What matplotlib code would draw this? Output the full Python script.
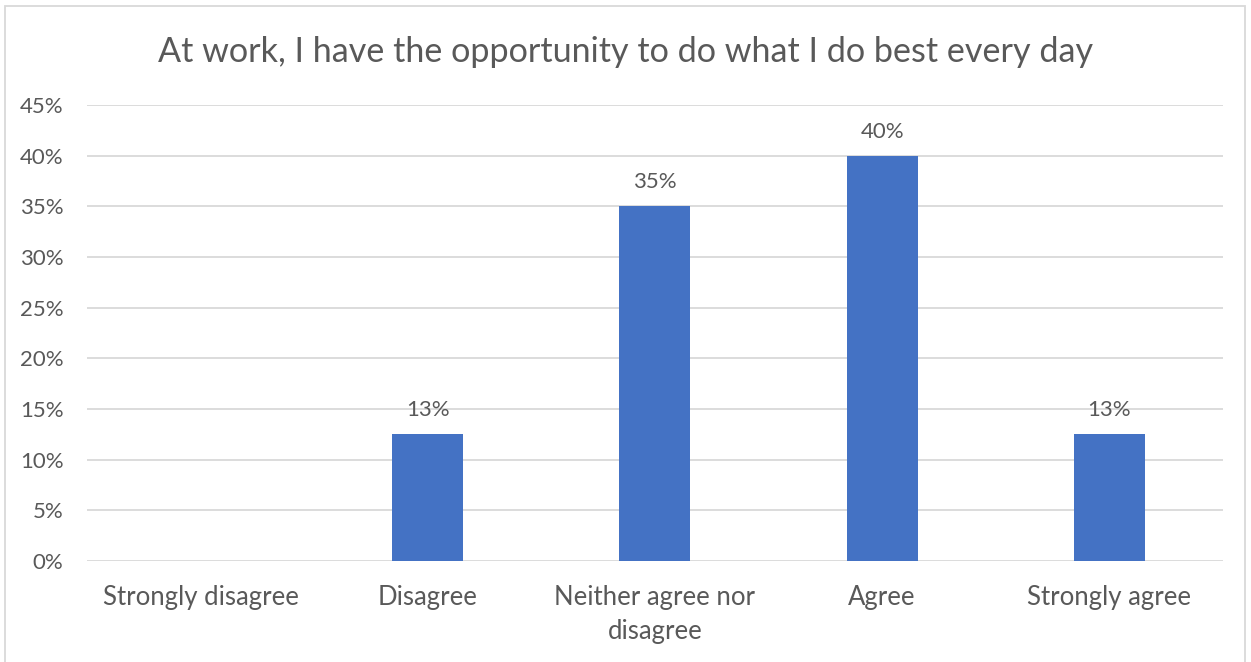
import matplotlib.pyplot as plt
from matplotlib.patches import Rectangle
from matplotlib.ticker import MultipleLocator, PercentFormatter

categories = ['Strongly disagree', 'Disagree', 'Neither agree nor\ndisagree', 'Agree', 'Strongly agree']
shares = [0.0, 12.5, 35.0, 40.0, 12.5]
labels = ['', '13%', '35%', '40%', '13%']

bar_color = '#4472C4'
text_color = '#595959'
grid_color = '#D9D9D9'

plt.rcParams['font.family'] = ['Lato', 'DejaVu Sans']

fig = plt.figure(figsize=(12.51, 6.62), dpi=100)
ax = fig.add_axes([0.0695, 0.1526, 0.9081, 0.6888])

x = range(len(categories))
bars = ax.bar(x, shares, width=0.3125, color=bar_color, zorder=3)
for rect, lab in zip(bars, labels):
    if lab:
        ax.annotate(lab, (rect.get_x() + rect.get_width() / 2, rect.get_height()),
                    xytext=(0, 10), textcoords='offset points',
                    ha='center', va='bottom', fontsize=16, color=text_color)

ax.set_xlim(-0.5, len(categories) - 0.5)
ax.set_ylim(0, 45)
ax.yaxis.set_major_locator(MultipleLocator(5))
ax.yaxis.set_major_formatter(PercentFormatter(decimals=0))
ax.set_xticks(list(x))
ax.set_xticklabels(categories, fontsize=18.5, color=text_color, linespacing=1.45)
ax.tick_params(axis='y', labelsize=16, labelcolor=text_color, length=0, pad=17)
ax.tick_params(axis='x', length=0, pad=17)
ax.grid(axis='y', color=grid_color, linewidth=1.3, zorder=0)
for s in ax.spines.values():
    s.set_visible(False)

fig.text(0.5, 0.922, 'At work, I have the opportunity to do what I do best every day',
         ha='center', va='center', fontsize=24.6, color=text_color)

# light frame around the whole chart
fig.patches.append(Rectangle((5 / 1251, -0.01), 1240 / 1251, 1 - 6 / 662 + 0.01,
                             transform=fig.transFigure, fill=False,
                             edgecolor=grid_color, linewidth=1.3))

fig.savefig('out.png', dpi=100)
